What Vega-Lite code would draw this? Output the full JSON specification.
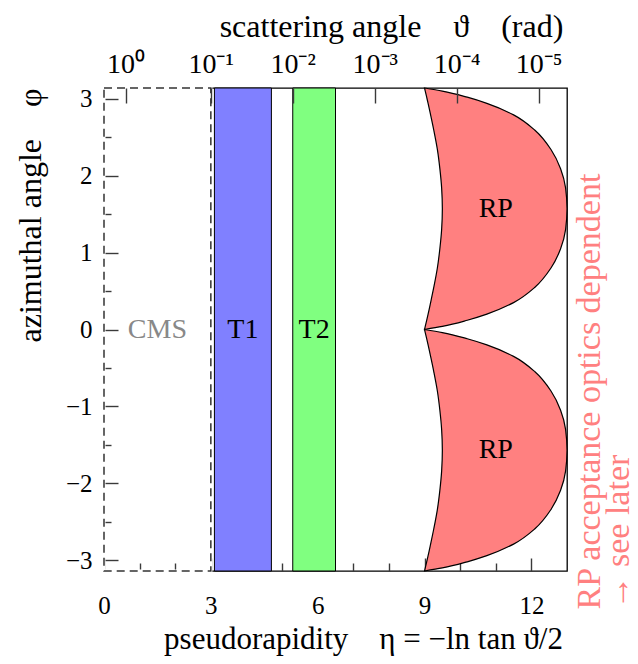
{
  "$schema": "https://vega.github.io/schema/vega-lite/v6.json",
  "width": 463,
  "height": 483,
  "autosize": {"type": "none"},
  "padding": {"left": 104, "top": 88, "right": 71, "bottom": 93},
  "background": "white",
  "config": {
    "view": {"stroke": "black", "strokeWidth": 1.3},
    "font": "Liberation Serif",
    "axis": {
      "labelFont": "Liberation Serif",
      "titleFont": "Liberation Serif",
      "labelFontSize": 25,
      "titleFontSize": 32,
      "labelColor": "black",
      "titleColor": "black",
      "titleFontWeight": "normal",
      "tickColor": "#3a3a3a",
      "grid": false,
      "tickWidth": 1.4,
      "domain": false,
      "labelFlush": false,
      "labelOverlap": false
    }
  },
  "resolve": {"axis": {"x": "independent", "y": "independent"}},
  "layer": [
    {
      "data": {"values": [{"region": "CMS", "lo": 0, "hi": 3}]},
      "mark": {"type": "rect", "filled": false, "stroke": "white", "strokeWidth": 3},
      "encoding": {
        "x": {
          "field": "lo", "type": "quantitative",
          "scale": {"domain": [0, 13], "nice": false, "zero": false},
          "axis": {
            "orient": "bottom", "values": [0, 3, 6, 9, 12], "format": "d",
            "offset": -13, "tickSize": 13, "labelPadding": 22, "labelBaseline": "top",
            "labelFont": "Liberation Serif", "labelFontSize": 25, "labelColor": "black",
            "title": "pseudorapidity\u2003η = −ln tan ϑ/2",
            "titleFont": "Liberation Serif", "titleFontSize": 31,
            "titleX": 259, "titleY": 90, "titleAlign": "center", "titleBaseline": "alphabetic"
          }
        },
        "x2": {"field": "hi"},
        "y": {
          "datum": -3.14159, "type": "quantitative",
          "scale": {"domain": [-3.14159, 3.14159], "nice": false, "zero": false},
          "axis": {
            "orient": "left", "values": [-3, -2, -1, 0, 1, 2, 3], "format": "d",
            "offset": -14, "tickSize": 14, "labelPadding": 12,
            "labelFont": "Liberation Serif", "labelFontSize": 25, "labelColor": "black",
            "title": "azimuthal angle\u2003φ",
            "titleFont": "Liberation Serif", "titleFontSize": 32,
            "titleX": -78, "titleY": 127, "titleAngle": 270, "titleAlign": "center", "titleBaseline": "alphabetic"
          }
        },
        "y2": {"datum": 3.14159}
      }
    },
    {
      "data": {"values": [{"region": "T1", "lo": 3.1, "hi": 4.7}, {"region": "T2", "lo": 5.3, "hi": 6.5}]},
      "mark": {"type": "rect", "stroke": "black", "strokeWidth": 1},
      "encoding": {
        "x": {
          "field": "lo", "type": "quantitative",
          "scale": {"domain": [0, 13], "nice": false, "zero": false},
          "axis": {"orient": "bottom", "values": [1, 2, 4, 5, 7, 8, 10, 11], "offset": -8, "tickSize": 8, "labels": false, "title": null}
        },
        "x2": {"field": "hi"},
        "y": {
          "datum": -3.14159, "type": "quantitative",
          "scale": {"domain": [-3.14159, 3.14159], "nice": false, "zero": false},
          "axis": {"orient": "left", "values": [-2.5, -1.5, -0.5, 0.5, 1.5, 2.5], "offset": -7, "tickSize": 7, "labels": false, "title": null}
        },
        "y2": {"datum": 3.14159},
        "fill": {"field": "region", "type": "nominal", "scale": {"domain": ["T1", "T2"], "range": ["#8080ff", "#80ff80"]}, "legend": null}
      }
    },
    {
      "data": {"values": [{"region": "CMS", "lo": 0, "hi": 3}]},
      "mark": {"type": "rect", "filled": false, "stroke": "#333333", "strokeWidth": 1.5, "strokeDash": [8, 5]},
      "encoding": {
        "x": {"field": "lo", "type": "quantitative", "scale": {"domain": [0, 13], "nice": false, "zero": false}, "axis": null},
        "x2": {"field": "hi"},
        "y": {"datum": -3.14159, "type": "quantitative", "scale": {"domain": [-3.14159, 3.14159], "nice": false, "zero": false}, "axis": null},
        "y2": {"datum": 3.14159}
      }
    },
    {
      "data": {"values": [
        {"lobe": "upper", "phi": 0, "lo": 9.0, "hi": 9.0},
        {"lobe": "upper", "phi": 0.04, "lo": 9.02, "hi": 9.5},
        {"lobe": "upper", "phi": 0.12, "lo": 9.06, "hi": 10.2},
        {"lobe": "upper", "phi": 0.2, "lo": 9.1, "hi": 10.75},
        {"lobe": "upper", "phi": 0.35, "lo": 9.17, "hi": 11.5},
        {"lobe": "upper", "phi": 0.55, "lo": 9.26, "hi": 12.1},
        {"lobe": "upper", "phi": 0.8, "lo": 9.36, "hi": 12.55},
        {"lobe": "upper", "phi": 1.05, "lo": 9.43, "hi": 12.82},
        {"lobe": "upper", "phi": 1.3, "lo": 9.48, "hi": 12.96},
        {"lobe": "upper", "phi": 1.571, "lo": 9.5, "hi": 13.0},
        {"lobe": "upper", "phi": 1.842, "lo": 9.48, "hi": 12.96},
        {"lobe": "upper", "phi": 2.092, "lo": 9.43, "hi": 12.82},
        {"lobe": "upper", "phi": 2.342, "lo": 9.36, "hi": 12.55},
        {"lobe": "upper", "phi": 2.592, "lo": 9.26, "hi": 12.1},
        {"lobe": "upper", "phi": 2.792, "lo": 9.17, "hi": 11.5},
        {"lobe": "upper", "phi": 2.942, "lo": 9.1, "hi": 10.75},
        {"lobe": "upper", "phi": 3.022, "lo": 9.06, "hi": 10.2},
        {"lobe": "upper", "phi": 3.102, "lo": 9.02, "hi": 9.5},
        {"lobe": "upper", "phi": 3.1416, "lo": 9.0, "hi": 9.0},
        {"lobe": "lower", "phi": -3.1416, "lo": 9.0, "hi": 9.0},
        {"lobe": "lower", "phi": -3.102, "lo": 9.02, "hi": 9.5},
        {"lobe": "lower", "phi": -3.022, "lo": 9.06, "hi": 10.2},
        {"lobe": "lower", "phi": -2.942, "lo": 9.1, "hi": 10.75},
        {"lobe": "lower", "phi": -2.792, "lo": 9.17, "hi": 11.5},
        {"lobe": "lower", "phi": -2.592, "lo": 9.26, "hi": 12.1},
        {"lobe": "lower", "phi": -2.342, "lo": 9.36, "hi": 12.55},
        {"lobe": "lower", "phi": -2.092, "lo": 9.43, "hi": 12.82},
        {"lobe": "lower", "phi": -1.842, "lo": 9.48, "hi": 12.96},
        {"lobe": "lower", "phi": -1.571, "lo": 9.5, "hi": 13.0},
        {"lobe": "lower", "phi": -1.3, "lo": 9.48, "hi": 12.96},
        {"lobe": "lower", "phi": -1.05, "lo": 9.43, "hi": 12.82},
        {"lobe": "lower", "phi": -0.8, "lo": 9.36, "hi": 12.55},
        {"lobe": "lower", "phi": -0.55, "lo": 9.26, "hi": 12.1},
        {"lobe": "lower", "phi": -0.35, "lo": 9.17, "hi": 11.5},
        {"lobe": "lower", "phi": -0.2, "lo": 9.1, "hi": 10.75},
        {"lobe": "lower", "phi": -0.12, "lo": 9.06, "hi": 10.2},
        {"lobe": "lower", "phi": -0.04, "lo": 9.02, "hi": 9.5},
        {"lobe": "lower", "phi": 0, "lo": 9.0, "hi": 9.0}
      ]},
      "mark": {"type": "area", "orient": "horizontal", "interpolate": "monotone", "fill": "#ff8080", "stroke": "black", "strokeWidth": 1.2},
      "encoding": {
        "x": {
          "field": "lo", "type": "quantitative", "stack": null,
          "scale": {"domain": [0, 13], "nice": false, "zero": false},
          "axis": {
            "orient": "top", "values": [0.6049, 2.995, 5.2983, 7.6009, 9.9035, 12.2061],
            "labelExpr": "datum.value < 1 ? '10⁰' : datum.value < 4 ? '10⁻¹' : datum.value < 6 ? '10⁻²' : datum.value < 8 ? '10⁻³' : datum.value < 11 ? '10⁻⁴' : '10⁻⁵'",
            "offset": -15, "tickSize": 15, "labelPadding": 10, "zindex": 1,
            "labelFont": "Liberation Serif", "labelFontSize": 28, "labelColor": "black",
            "title": "scattering angle\u2003ϑ\u2003(rad)",
            "titleFont": "Liberation Serif", "titleFontSize": 32,
            "titleX": 287, "titleY": -67, "titleAlign": "center", "titleBaseline": "alphabetic"
          }
        },
        "x2": {"field": "hi"},
        "y": {
          "field": "phi", "type": "quantitative",
          "scale": {"domain": [-3.14159, 3.14159], "nice": false, "zero": false},
          "axis": {
            "orient": "right", "ticks": false, "labels": false,
            "title": ["RP acceptance optics dependent", "→ see later"],
            "titleFont": "Liberation Serif", "titleFontSize": 34,
            "titleColor": "#ff8080", "titleAngle": 270, "titleAlign": "left", "titleBaseline": "alphabetic",
            "titleX": 32, "titleY": 521, "titleLineHeight": 29
          }
        },
        "detail": {"field": "lobe", "type": "nominal"}
      }
    },
    {
      "data": {"values": [{"label": "CMS", "eta": 1.5, "phi": 0}]},
      "mark": {"type": "text", "font": "Liberation Serif", "fontSize": 28, "color": "#888888", "baseline": "middle", "align": "center"},
      "encoding": {
        "x": {"field": "eta", "type": "quantitative", "scale": {"domain": [0, 13], "nice": false, "zero": false}, "axis": null},
        "y": {"field": "phi", "type": "quantitative", "scale": {"domain": [-3.14159, 3.14159], "nice": false, "zero": false}, "axis": null},
        "text": {"field": "label"}
      }
    },
    {
      "data": {"values": [
        {"label": "T1", "eta": 3.9, "phi": 0},
        {"label": "T2", "eta": 5.9, "phi": 0},
        {"label": "RP", "eta": 11.0, "phi": 1.57},
        {"label": "RP", "eta": 11.0, "phi": -1.57}
      ]},
      "mark": {"type": "text", "font": "Liberation Serif", "fontSize": 28, "color": "black", "baseline": "middle", "align": "center"},
      "encoding": {
        "x": {"field": "eta", "type": "quantitative", "scale": {"domain": [0, 13], "nice": false, "zero": false}, "axis": null},
        "y": {"field": "phi", "type": "quantitative", "scale": {"domain": [-3.14159, 3.14159], "nice": false, "zero": false}, "axis": null},
        "text": {"field": "label"}
      }
    }
  ]
}
